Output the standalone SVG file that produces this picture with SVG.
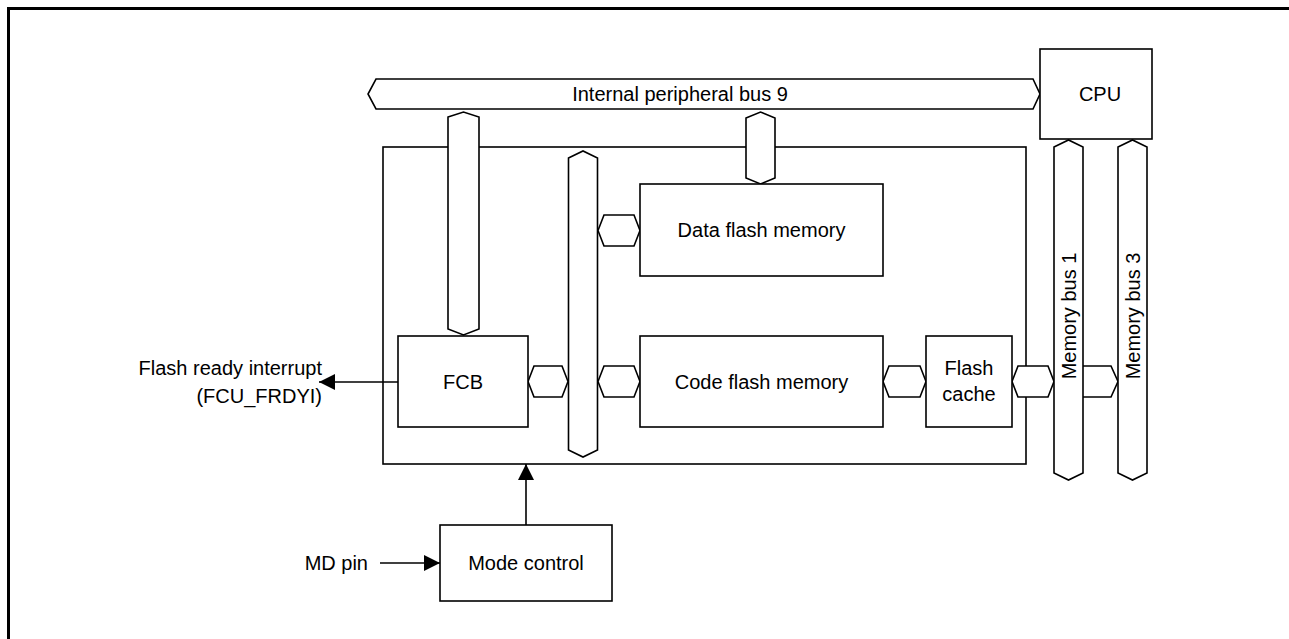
<svg xmlns="http://www.w3.org/2000/svg" width="1289" height="639" viewBox="0 0 1289 639">
<defs>
<style>
.s{fill:#fff;stroke:#000;stroke-width:1.6;stroke-linejoin:miter}
.l{fill:none;stroke:#000;stroke-width:1.6}
.t{font-family:"Liberation Sans",Arial,sans-serif;font-size:20px;fill:#000}
.m{text-anchor:middle;dominant-baseline:central}
</style>
<marker id="ah" markerWidth="16" markerHeight="16" refX="16" refY="8" orient="auto" markerUnits="userSpaceOnUse">
<path d="M0,0 L16,8 L0,16 Z" fill="#000"/>
</marker>
</defs>
<rect width="1289" height="639" fill="#fff"/>
<path d="M8.5,639 V8.5 H1289" fill="none" stroke="#000" stroke-width="3"/>

<g id="flash-module"><rect class="s" x="383" y="147" width="643" height="317"/></g>

<g id="internal-peripheral-bus-9">
<polygon class="s" points="376,79 1033,79 1040,94 1033,109 376,109 368,94"/>
<text class="t m" x="680" y="94">Internal peripheral bus 9</text>
</g>

<g id="cpu"><rect class="s" x="1040" y="49" width="112" height="90"/><text class="t m" x="1100" y="94">CPU</text></g>

<g id="connectors">
<polygon class="s" points="448,117 463.5,112 479,117 479,329 463.5,335 448,329"/>
<polygon class="s" points="746,118 760.5,112 775,118 775,178 760.5,184 746,178"/>
<polygon class="s" points="568.5,158 583,151 597.5,158 597.5,450 583,457 568.5,450"/>
<polygon class="s" points="598,230.5 604,215 634,215 640,230.5 634,246 604,246"/>
<polygon class="s" points="528,381.5 534,366 562,366 568,381.5 562,397 534,397"/>
<polygon class="s" points="598,381.5 604,366 634,366 640,381.5 634,397 604,397"/>
<polygon class="s" points="883,381.5 889,366 920,366 926,381.5 920,397 889,397"/>
<polygon class="s" points="1012,381.5 1018,366 1048,366 1054,381.5 1048,397 1018,397"/>
<polyline class="l" points="1083,366 1111,366 1118,381.5 1111,397 1083,397" style="fill:#fff"/>
<line class="l" x1="398" y1="382" x2="319" y2="382" marker-end="url(#ah)"/>
<line class="l" x1="526" y1="525" x2="526" y2="464" marker-end="url(#ah)"/>
<line class="l" x1="380" y1="563" x2="440" y2="563" marker-end="url(#ah)"/>
</g>

<g id="memory-bus-1">
<polygon class="s" points="1054,147 1068.5,140 1083,147 1083,473 1068.5,480 1054,473"/>
<text class="t m" transform="translate(1068.5,316) rotate(-90)">Memory bus 1</text>
</g>
<g id="memory-bus-3">
<polygon class="s" points="1118,147 1132.5,140 1147,147 1147,473 1132.5,480 1118,473"/>
<text class="t m" transform="translate(1132.5,316) rotate(-90)">Memory bus 3</text>
</g>

<g id="data-flash-memory"><rect class="s" x="640" y="184" width="243" height="92"/><text class="t m" x="761.5" y="230">Data flash memory</text></g>
<g id="code-flash-memory"><rect class="s" x="640" y="336" width="243" height="91"/><text class="t m" x="761.5" y="381.5">Code flash memory</text></g>
<g id="fcb"><rect class="s" x="398" y="336" width="130" height="91"/><text class="t m" x="463" y="381.5">FCB</text></g>
<g id="flash-cache"><rect class="s" x="926" y="336" width="86" height="91"/><text class="t m" x="969" y="368">Flash</text><text class="t m" x="969" y="394">cache</text></g>
<g id="mode-control"><rect class="s" x="440" y="525" width="172" height="76"/><text class="t m" x="526" y="563">Mode control</text></g>

<g id="labels">
<text class="t" x="322" y="375" text-anchor="end">Flash ready interrupt</text>
<text class="t" x="322" y="403" text-anchor="end">(FCU_FRDYI)</text>
<text class="t" x="368" y="570" text-anchor="end">MD pin</text>
</g>
</svg>
